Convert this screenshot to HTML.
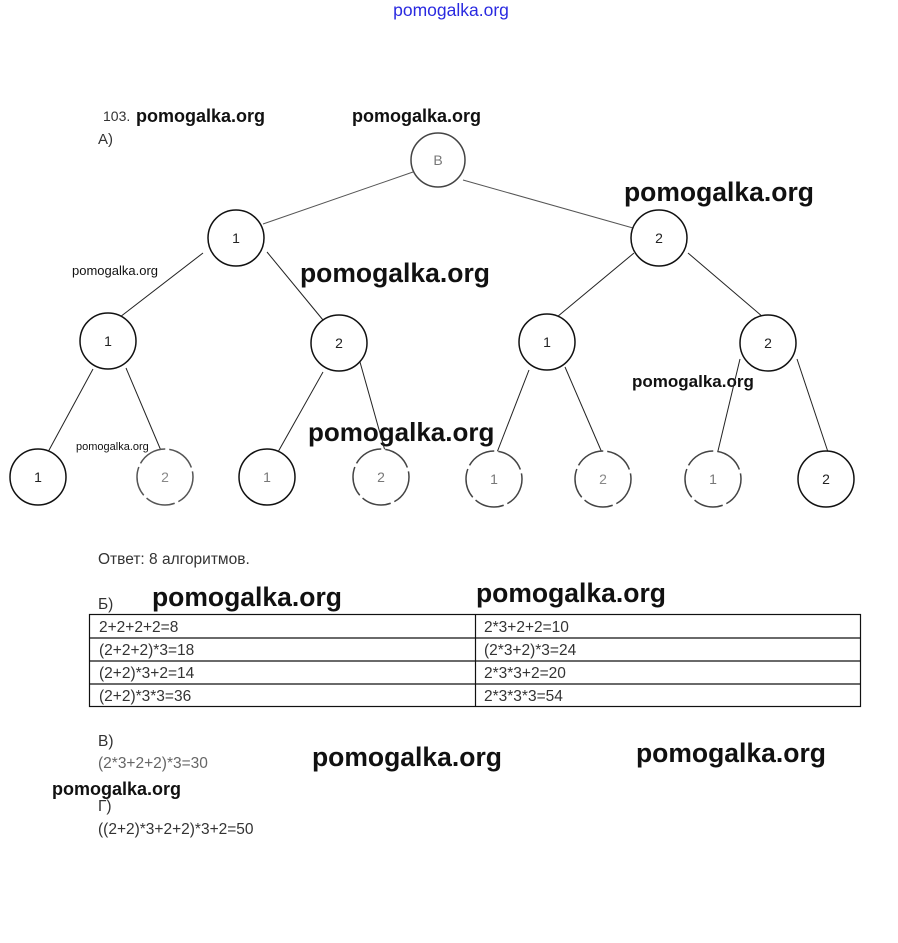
<!DOCTYPE html>
<html><head><meta charset="utf-8"><style>
html,body{margin:0;padding:0;background:#fff}
svg{display:block}
.t{font-family:"Liberation Sans",sans-serif;fill:#333}
.w{font-family:"Liberation Sans",sans-serif;font-weight:bold;fill:#111}
.n{font-family:"Liberation Sans",sans-serif;font-size:14px;fill:#222;text-anchor:middle}
</style></head><body>
<svg width="898" height="943" viewBox="0 0 898 943" xmlns="http://www.w3.org/2000/svg">
<text x="451" y="16" class="w" style="fill:#2a2ae0;font-size:17.5px;font-weight:normal" text-anchor="middle">pomogalka.org</text>
<text x="103" y="121" class="t" font-size="14">103.</text>
<text x="136" y="122" class="w" font-size="18">pomogalka.org</text>
<text x="98" y="144" class="t" font-size="15">А)</text>
<text x="352" y="122" class="w" font-size="18">pomogalka.org</text>
<text x="624" y="201" class="w" font-size="26.5">pomogalka.org</text>
<text x="300" y="282" class="w" font-size="26.5">pomogalka.org</text>
<text x="72" y="275" class="w" font-size="13" style="font-weight:normal;fill:#111">pomogalka.org</text>
<text x="632" y="387" class="w" font-size="17">pomogalka.org</text>
<text x="308" y="441" class="w" font-size="26">pomogalka.org</text>
<text x="76" y="450" class="w" font-size="11" style="font-weight:normal;fill:#111">pomogalka.org</text>
<g stroke="#222" stroke-width="1" fill="none">
<line x1="413" y1="172" x2="263" y2="224" stroke="#555"/>
<line x1="463" y1="180" x2="633" y2="228" stroke="#555"/>
<line x1="203" y1="253" x2="120" y2="317"/>
<line x1="267" y1="252" x2="323" y2="320"/>
<line x1="93" y1="369" x2="48" y2="452"/>
<line x1="126" y1="368" x2="162" y2="453"/>
<line x1="323" y1="372" x2="278" y2="452"/>
<line x1="360" y1="362" x2="387" y2="458"/>
<line x1="634" y1="253" x2="557" y2="317"/>
<line x1="688" y1="253" x2="763" y2="317"/>
<line x1="529" y1="370" x2="496" y2="455"/>
<line x1="565" y1="367" x2="603" y2="455"/>
<line x1="740" y1="359" x2="717" y2="455"/>
<line x1="797" y1="359" x2="829" y2="455"/>
</g>
<g fill="#fff" stroke="#111" stroke-width="1.5">
<circle cx="438" cy="160" r="27" stroke="#444"/>
<circle cx="236" cy="238" r="28"/>
<circle cx="659" cy="238" r="28"/>
<circle cx="108" cy="341" r="28"/>
<circle cx="339" cy="343" r="28"/>
<circle cx="547" cy="342" r="28"/>
<circle cx="768" cy="343" r="28"/>
<circle cx="38" cy="477" r="28"/>
<circle cx="165" cy="477" r="28" stroke="#555" stroke-dasharray="30 4"/>
<circle cx="267" cy="477" r="28"/>
<circle cx="381" cy="477" r="28" stroke="#444" stroke-dasharray="30 4"/>
<circle cx="494" cy="479" r="28" stroke="#444" stroke-dasharray="30 4"/>
<circle cx="603" cy="479" r="28" stroke="#444" stroke-dasharray="30 4"/>
<circle cx="713" cy="479" r="28" stroke="#444" stroke-dasharray="30 4"/>
<circle cx="826" cy="479" r="28"/>
</g>
<g>
<text class="n" x="438" y="165" style="fill:#777">В</text>
<text class="n" x="236" y="243">1</text>
<text class="n" x="659" y="243">2</text>
<text class="n" x="108" y="346">1</text>
<text class="n" x="339" y="348">2</text>
<text class="n" x="547" y="347">1</text>
<text class="n" x="768" y="348">2</text>
<text class="n" x="38" y="482">1</text>
<text class="n" x="165" y="482" style="fill:#888">2</text>
<text class="n" x="267" y="482" style="fill:#777">1</text>
<text class="n" x="381" y="482" style="fill:#777">2</text>
<text class="n" x="494" y="484" style="fill:#777">1</text>
<text class="n" x="603" y="484" style="fill:#888">2</text>
<text class="n" x="713" y="484" style="fill:#777">1</text>
<text class="n" x="826" y="484">2</text>
</g>
<text x="98" y="564" class="t" font-size="15.5">Ответ: 8 алгоритмов.</text>
<text x="98" y="609" class="t" font-size="15.5">Б)</text>
<text x="152" y="606" class="w" font-size="26.5">pomogalka.org</text>
<text x="476" y="602" class="w" font-size="26.5">pomogalka.org</text>
<g stroke="#111" stroke-width="1.2" fill="none">
<rect x="89.5" y="614.5" width="771" height="92"/>
<line x1="89" y1="638" x2="861" y2="638"/>
<line x1="89" y1="661" x2="861" y2="661"/>
<line x1="89" y1="684" x2="861" y2="684"/>
<line x1="475.5" y1="614" x2="475.5" y2="707"/>
</g>
<g class="t" font-size="15.5">
<text x="99" y="632">2+2+2+2=8</text>
<text x="99" y="655">(2+2+2)*3=18</text>
<text x="99" y="678">(2+2)*3+2=14</text>
<text x="99" y="701">(2+2)*3*3=36</text>
<text x="484" y="632">2*3+2+2=10</text>
<text x="484" y="655">(2*3+2)*3=24</text>
<text x="484" y="678">2*3*3+2=20</text>
<text x="484" y="701">2*3*3*3=54</text>
<text x="98" y="746">В)</text>
<text x="98" y="768" style="fill:#666">(2*3+2+2)*3=30</text>
<text x="98" y="811">Г)</text>
<text x="98" y="834">((2+2)*3+2+2)*3+2=50</text>
</g>
<text x="312" y="766" class="w" font-size="26.5">pomogalka.org</text>
<text x="636" y="762" class="w" font-size="26.5">pomogalka.org</text>
<text x="52" y="795" class="w" font-size="18">pomogalka.org</text>
</svg>
</body></html>
